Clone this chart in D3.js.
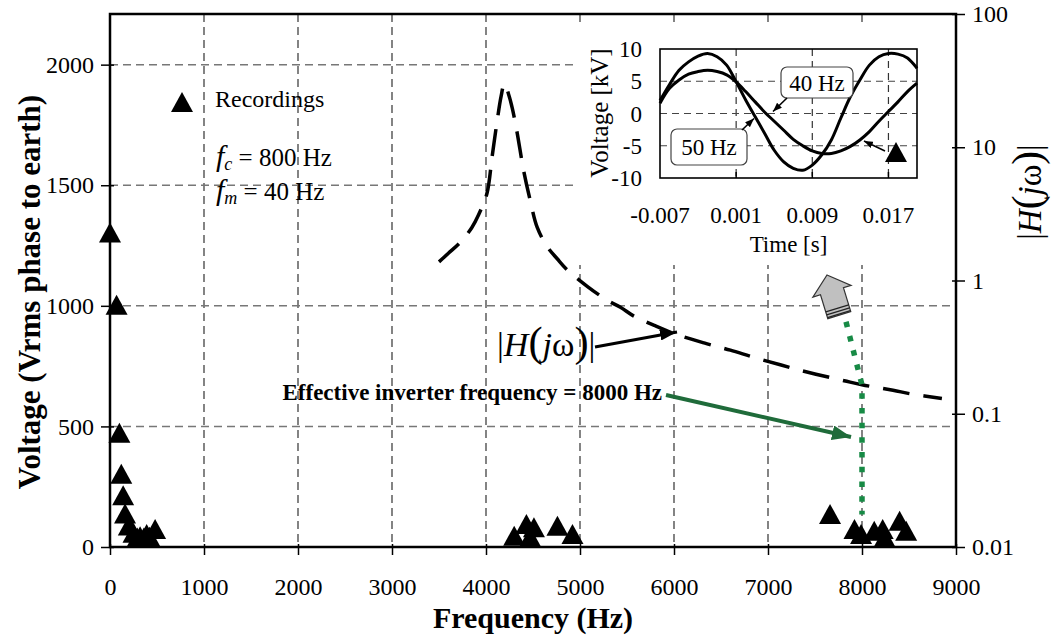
<!DOCTYPE html>
<html>
<head>
<meta charset="utf-8">
<script src="https://cdn.jsdelivr.net/npm/d3@7"></script>
<style>
  body { margin: 0; background: #fff; }
  svg { display: block; }
  text { font-family: "Liberation Serif", "Times New Roman", serif; fill: #000; }
</style>
</head>
<body>
<div id="chart"></div>
<script>

// recordings (triangles), frequency in Hz / voltage Vrms
var recFreq = [0, 70, 100, 120, 140, 160, 200, 250, 290, 320, 360, 390, 420, 480,
               4300, 4430, 4470, 4510, 4760, 4920,
               7660, 7920, 7990, 8130, 8220, 8240, 8400, 8470];
var recVolt = [1300, 1000, 470, 300, 210, 135, 85, 55, 35, 40, 35, 50, 38, 70,
               43, 91, 37, 78, 84, 50,
               133, 70, 50, 63, 70, 36, 105, 63];

var hFreq = [3500, 3600, 3730, 3850, 3920, 4010, 4065, 4120, 4160, 4196, 4240, 4280, 4330,
             4400, 4470, 4545, 4650, 4760, 4865, 5080, 5290, 5430, 5575, 5790, 6000, 6320,
             6600, 6850, 7140, 7310, 7510, 7810, 8000, 8330, 8520, 8850];
var hMag = [1.38, 1.6, 1.95, 2.5, 3.1, 4.5, 8.5, 16, 24, 30, 25, 19.6, 13,
            6.7, 4.0, 2.5, 1.8, 1.45, 1.2, 0.9, 0.71, 0.63, 0.54, 0.46, 0.40, 0.34,
            0.30, 0.265, 0.232, 0.215, 0.198, 0.177, 0.165, 0.150, 0.141, 0.130];

// inset waveforms (kV)
var tInset = [-0.007, -0.006, -0.005, -0.004, -0.003, -0.002, -0.001, 0.000, 0.001, 0.002,
              0.003, 0.004, 0.005, 0.006, 0.007, 0.008, 0.009, 0.010, 0.011, 0.012,
              0.013, 0.014, 0.015, 0.016, 0.017, 0.018, 0.019, 0.020];
var v50 = [2.0, 4.5, 6.7, 8.0, 8.9, 9.3, 8.8, 7.5, 4.9, 2.1,
           -0.5, -3.1, -5.7, -7.5, -8.5, -8.8, -8.0, -6.4, -4.1, -0.7,
           2.6, 5.2, 7.5, 8.8, 9.3, 9.2, 8.6, 7.0];
var v40 = [1.6, 3.9, 5.2, 6.1, 6.5, 6.7, 6.5, 6.0, 4.9, 3.4,
           1.8, 0.2, -1.2, -2.6, -4.0, -5.0, -5.8, -6.2, -6.2, -5.8,
           -5.1, -4.1, -2.8, -1.2, 0.3, 1.8, 3.4, 4.7];

var xTicks = [0, 1000, 2000, 3000, 4000, 5000, 6000, 7000, 8000, 9000];
var yTicks = [0, 500, 1000, 1500, 2000];
var hTicks = [0.01, 0.1, 1, 10, 100];
var hTickLabels = ["0.01", "0.1", "1", "10", "100"];
var insetXTicks = [-0.007, 0.001, 0.009, 0.017];
var insetYTicks = [-10, -5, 0, 5, 10];

var W = 1052, H = 639;
var pLeft = 110, pRight = 956, pTop = 14, pBottom = 547;

var svg = d3.select("#chart").append("svg")
  .attr("width", W)
  .attr("height", H);

var defs = svg.append("defs");
function arrowMarker(id, color, len, wid) {
  defs.append("marker")
    .attr("id", id)
    .attr("markerUnits", "userSpaceOnUse")
    .attr("viewBox", "0 0 " + len + " " + wid)
    .attr("refX", len).attr("refY", wid / 2)
    .attr("markerWidth", len).attr("markerHeight", wid)
    .attr("orient", "auto")
    .append("path")
    .attr("d", "M0,0 L" + len + "," + (wid / 2) + " L0," + wid + " Z")
    .attr("fill", color);
}
arrowMarker("headBlack", "#000", 17, 11);
arrowMarker("headGreen", "#1f6b3a", 19, 15);
arrowMarker("headSmall", "#000", 9, 7);

var x = d3.scaleLinear().domain([0, 9000]).range([pLeft, pRight]);
var y = d3.scaleLinear().domain([0, 2210]).range([pBottom, pTop]);
var yH = d3.scaleLog().domain([0.01, 100]).range([pBottom, pTop]);

// grid
svg.append("g").selectAll("line")
  .data(xTicks.filter(function(d) { return d > 0 && d < 9000; }))
  .enter().append("line")
  .attr("x1", function(d) { return x(d); })
  .attr("x2", function(d) { return x(d); })
  .attr("y1", pTop).attr("y2", pBottom)
  .attr("stroke", "#333").attr("stroke-width", 1.2)
  .attr("stroke-dasharray", "8,5");

svg.append("g").selectAll("line")
  .data(yTicks.filter(function(d) { return d > 0; }))
  .enter().append("line")
  .attr("x1", pLeft).attr("x2", pRight)
  .attr("y1", function(d) { return y(d); })
  .attr("y2", function(d) { return y(d); })
  .attr("stroke", "#777").attr("stroke-width", 1.5)
  .attr("stroke-dasharray", "8,5");

// white area behind the inset
svg.append("rect")
  .attr("x", 577).attr("y", 24)
  .attr("width", pRight - 577 - 1).attr("height", 241)
  .attr("fill", "#fff");

// |H(jw)| dashed curve
var hData = hFreq.map(function(f, i) { return [f, hMag[i]]; });
svg.append("path")
  .datum(hData)
  .attr("fill", "none")
  .attr("stroke", "#000")
  .attr("stroke-width", 3.5)
  .attr("stroke-dasharray", "27,14")
  .attr("d", d3.line()
    .x(function(d) { return x(d[0]); })
    .y(function(d) { return yH(d[1]); })
    .curve(d3.curveCatmullRom));

// green dotted marker line at 8000 Hz
var greenPts = [[7830, 934], [8000, 672], [8000, 135]];
svg.append("path")
  .datum(greenPts)
  .attr("fill", "none")
  .attr("stroke", "#178a45")
  .attr("stroke-width", 5.5)
  .attr("stroke-dasharray", "5.5,9.2")
  .attr("d", d3.line()
    .x(function(d) { return x(d[0]); })
    .y(function(d) { return y(d[1]); }));

// recordings
var tri = "M0,-11 L11,9 L-11,9 Z";
svg.append("g").selectAll("path")
  .data(recFreq.map(function(f, i) { return [f, recVolt[i]]; }))
  .enter().append("path")
  .attr("d", tri)
  .attr("fill", "#000")
  .attr("transform", function(d) { return "translate(" + x(d[0]) + "," + y(d[1]) + ")"; });

// axes
var gx = svg.append("g")
  .attr("transform", "translate(0," + pBottom + ")")
  .call(d3.axisBottom(x).tickValues(xTicks).tickFormat(d3.format("d")).tickSize(8));
gx.selectAll(".tick line").attr("y1", -3).attr("stroke-width", 1.5);
gx.selectAll("text").attr("y", 48).attr("dy", null).style("font-size", "24px")
  .style("font-family", "'Liberation Serif', serif");

var gy = svg.append("g")
  .attr("transform", "translate(" + pLeft + ",0)")
  .call(d3.axisLeft(y).tickValues(yTicks).tickFormat(d3.format("d")).tickSize(9));
gy.selectAll(".tick line").attr("x1", 4).attr("stroke-width", 1.5);
gy.selectAll("text").attr("x", -16).style("font-size", "24px")
  .style("font-family", "'Liberation Serif', serif");

var gr = svg.append("g")
  .attr("transform", "translate(" + pRight + ",0)")
  .call(d3.axisRight(yH).tickValues(hTicks)
    .tickFormat(function(d, i) { return hTickLabels[i]; }).tickSize(9));
gr.selectAll(".tick line").attr("x1", -4).attr("stroke-width", 1.5);
gr.selectAll("text").attr("x", 16).style("font-size", "24px")
  .style("font-family", "'Liberation Serif', serif");

[gx, gy, gr].forEach(function(g) {
  g.select(".domain").remove();
  g.selectAll(".tick line").attr("stroke", "#000");
});

svg.append("rect")
  .attr("x", pLeft).attr("y", pTop)
  .attr("width", pRight - pLeft).attr("height", pBottom - pTop)
  .attr("fill", "none").attr("stroke", "#000").attr("stroke-width", 2.5);

// axis titles
svg.append("text")
  .attr("x", (pLeft + pRight) / 2).attr("y", 628)
  .attr("text-anchor", "middle")
  .style("font-size", "30px").style("font-weight", "bold")
  .text("Frequency (Hz)");

svg.append("text")
  .attr("transform", "translate(40,292) rotate(-90)")
  .attr("text-anchor", "middle")
  .style("font-size", "31px").style("font-weight", "bold")
  .text("Voltage (Vrms phase to earth)");

function hLabel(sel, size) {
  sel.append("tspan").text("|");
  sel.append("tspan").style("font-style", "italic").text("H");
  sel.append("tspan").style("font-size", (size * 1.25) + "px").text("(");
  sel.append("tspan").style("font-style", "italic").text("j");
  sel.append("tspan").text("ω");
  sel.append("tspan").style("font-size", (size * 1.25) + "px").text(")");
  sel.append("tspan").text("|");
}

var rLab = svg.append("text")
  .attr("transform", "translate(1041,192) rotate(-90)")
  .attr("text-anchor", "middle")
  .style("font-size", "33px");
hLabel(rLab, 33);

// legend
svg.append("path").attr("d", tri).attr("fill", "#000")
  .attr("transform", "translate(182,103)");
svg.append("text").attr("x", 215).attr("y", 107)
  .style("font-size", "24px").text("Recordings");

var fc = svg.append("text").attr("x", 216).attr("y", 166).style("font-size", "25px");
fc.append("tspan").style("font-style", "italic").style("font-size", "30px").text("f");
fc.append("tspan").style("font-style", "italic").style("font-size", "18px").attr("dy", 4).text("c");
fc.append("tspan").attr("dy", -4).text(" = 800 Hz");

var fm = svg.append("text").attr("x", 216).attr("y", 200).style("font-size", "25px");
fm.append("tspan").style("font-style", "italic").style("font-size", "30px").text("f");
fm.append("tspan").style("font-style", "italic").style("font-size", "18px").attr("dy", 4).text("m");
fm.append("tspan").attr("dy", -4).text(" = 40 Hz");

// |H(jw)| annotation
var hAnn = svg.append("text").attr("x", 497).attr("y", 356).style("font-size", "34px");
hLabel(hAnn, 34);
svg.append("line")
  .attr("x1", 595).attr("y1", 347).attr("x2", 677).attr("y2", 332)
  .attr("stroke", "#000").attr("stroke-width", 3)
  .attr("marker-end", "url(#headBlack)");

// effective inverter frequency annotation
svg.append("text")
  .attr("x", 662).attr("y", 400)
  .attr("text-anchor", "end")
  .style("font-size", "23px").style("font-weight", "bold")
  .text("Effective inverter frequency = 8000 Hz");
svg.append("line")
  .attr("x1", 666).attr("y1", 395).attr("x2", 851).attr("y2", 437)
  .attr("stroke", "#1f6b3a").attr("stroke-width", 4)
  .attr("marker-end", "url(#headGreen)");

// gray block arrow pointing at the inset
var ga = svg.append("g").attr("transform", "translate(827,275) rotate(-17)");
ga.append("path")
  .attr("d", "M0,0 L20,17 L12,17 L12,42 L-12,42 L-12,17 L-20,17 Z")
  .attr("fill", "#c0c0c0").attr("stroke", "#333").attr("stroke-width", 1.2);
[35, 38, 41].forEach(function(v) {
  ga.append("line").attr("x1", -12).attr("x2", 12).attr("y1", v).attr("y2", v)
    .attr("stroke", "#222").attr("stroke-width", 1.3);
});

// ---- inset ----
var ix = d3.scaleLinear().domain([-0.007, 0.02]).range([660, 917]);
var iy = d3.scaleLinear().domain([-10, 10]).range([178, 49]);
var inset = svg.append("g");

inset.append("g").selectAll("line")
  .data(insetXTicks.slice(1))
  .enter().append("line")
  .attr("x1", function(d) { return ix(d); }).attr("x2", function(d) { return ix(d); })
  .attr("y1", iy(10)).attr("y2", iy(-10))
  .attr("stroke", "#333").attr("stroke-width", 1.2).attr("stroke-dasharray", "7,5");
inset.append("g").selectAll("line")
  .data([-5, 0, 5])
  .enter().append("line")
  .attr("x1", ix(-0.007)).attr("x2", ix(0.02))
  .attr("y1", function(d) { return iy(d); }).attr("y2", function(d) { return iy(d); })
  .attr("stroke", "#444").attr("stroke-width", 1.2).attr("stroke-dasharray", "7,5");

var wave = d3.line()
  .x(function(d) { return ix(d[0]); })
  .y(function(d) { return iy(d[1]); })
  .curve(d3.curveCatmullRom);
[v50, v40].forEach(function(v) {
  inset.append("path")
    .datum(tInset.map(function(t, i) { return [t, v[i]]; }))
    .attr("fill", "none").attr("stroke", "#000").attr("stroke-width", 3)
    .attr("d", wave);
});

inset.append("rect")
  .attr("x", ix(-0.007)).attr("y", iy(10))
  .attr("width", ix(0.02) - ix(-0.007)).attr("height", iy(-10) - iy(10))
  .attr("fill", "none").attr("stroke", "#000").attr("stroke-width", 1.6);

inset.append("g").selectAll("line")
  .data(insetXTicks.slice(1))
  .enter().append("line")
  .attr("x1", function(d) { return ix(d); }).attr("x2", function(d) { return ix(d); })
  .attr("y1", iy(-10)).attr("y2", iy(-10) - 6)
  .attr("stroke", "#000").attr("stroke-width", 1.5);

inset.append("g").selectAll("text")
  .data(insetXTicks)
  .enter().append("text")
  .attr("x", function(d) { return ix(d); }).attr("y", 223)
  .attr("text-anchor", "middle").style("font-size", "23px")
  .text(function(d) { return d3.format(".3f")(d).replace("−", "-"); });
inset.append("g").selectAll("text")
  .data(insetYTicks)
  .enter().append("text")
  .attr("x", 642).attr("y", function(d) { return iy(d); })
  .attr("dy", "0.35em")
  .attr("text-anchor", "end").style("font-size", "23px")
  .text(function(d) { return d; });

inset.append("text")
  .attr("x", (ix(-0.007) + ix(0.02)) / 2).attr("y", 252)
  .attr("text-anchor", "middle").style("font-size", "23px")
  .text("Time [s]");
inset.append("text")
  .attr("transform", "translate(608,113) rotate(-90)")
  .attr("text-anchor", "middle").style("font-size", "25px")
  .text("Voltage [kV]");

function tag(x0, y0, w, h, label) {
  inset.append("rect").attr("x", x0).attr("y", y0).attr("width", w).attr("height", h)
    .attr("rx", 6).attr("fill", "#fff").attr("stroke", "#444").attr("stroke-width", 1.2);
  inset.append("text").attr("x", x0 + w / 2).attr("y", y0 + h / 2).attr("dy", "0.35em")
    .attr("text-anchor", "middle").style("font-size", "23px").text(label);
}
tag(781, 67, 72, 31, "40 Hz");
tag(671, 129, 76, 36, "50 Hz");

[[787, 98, 773, 111.5], [742, 130, 754, 118.5], [885, 151, 864, 141]].forEach(function(a) {
  inset.append("line")
    .attr("x1", a[0]).attr("y1", a[1]).attr("x2", a[2]).attr("y2", a[3])
    .attr("stroke", "#000").attr("stroke-width", 1.6)
    .attr("marker-end", "url(#headSmall)");
});
inset.append("path").attr("d", tri).attr("fill", "#000")
  .attr("transform", "translate(896,153)");

</script>
</body>
</html>
